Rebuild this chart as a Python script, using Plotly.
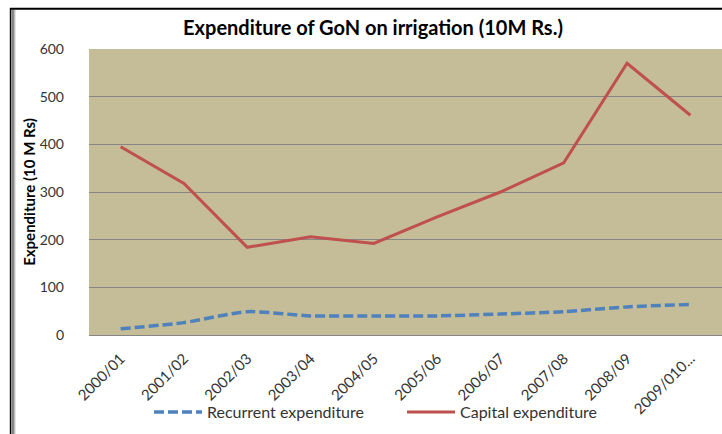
import plotly.graph_objects as go

categories = ["2000/01", "2001/02", "2002/03", "2003/04", "2004/05",
              "2005/06", "2006/07", "2007/08", "2008/09", "2009/010..."]
recurrent = [13, 26, 49, 40, 40, 40, 44, 49, 59, 64]
capital = [395, 318, 184, 206, 192, 248, 300, 361, 570, 461]
y_ticks = [0, 100, 200, 300, 400, 500, 600]

W, H = 722, 434
ML, MR, MT, MB = 89, 0, 49, 99
PW, PH = W - ML - MR, H - MT - MB

def px_x(px):
    return (px - ML) / PW

def px_y(py):
    return (H - MB - py) / PH

fig = go.Figure()
fig.add_trace(go.Scatter(
    x=categories, y=recurrent, mode="lines", name="Recurrent expenditure",
    line=dict(color="#4F81BD", width=3.5, dash="10px,4px", shape="spline", smoothing=0.6),
))
fig.add_trace(go.Scatter(
    x=categories, y=capital, mode="lines", name="Capital expenditure",
    line=dict(color="#C0504D", width=3),
))

shapes = [
    dict(type="line", xref="paper", yref="paper", x0=px_x(10), x1=px_x(730), y0=px_y(8.7), y1=px_y(8.7),
         line=dict(color="black", width=2)),
    dict(type="line", xref="paper", yref="paper", x0=px_x(10.6), x1=px_x(10.6), y0=px_y(8), y1=px_y(440),
         line=dict(color="black", width=1.6)),
    dict(type="line", xref="paper", yref="paper", x0=px_x(13), x1=px_x(13), y0=px_y(9.5), y1=px_y(440),
         line=dict(color="black", width=1)),
    dict(type="line", xref="paper", yref="paper", x0=px_x(14.6), x1=px_x(14.6), y0=px_y(10), y1=px_y(440),
         line=dict(color="#BBBBBB", width=1.6)),
]

fig.update_layout(
    width=W, height=H,
    margin=dict(l=ML, r=MR, t=MT, b=MB, autoexpand=False),
    paper_bgcolor="white",
    plot_bgcolor="#C4BD97",
    font=dict(family="Lato", color="#333333"),
    title=dict(text="<b>Expenditure of GoN on irrigation (10M Rs.)</b>",
               x=373 / W, xanchor="center",
               y=1 - 28 / H, yanchor="middle",
               font=dict(family="Lato", size=20, color="black")),
    showlegend=True,
    legend=dict(orientation="h", xref="paper", yref="paper",
                x=px_x(149), xanchor="left", y=px_y(412), yanchor="middle",
                font=dict(family="Lato", size=16, color="#333333"),
                bgcolor="rgba(0,0,0,0)", itemwidth=48, tracegroupgap=0,
                entrywidth=190),
    xaxis=dict(type="category", tickangle=-45, showgrid=False, automargin=False,
               showline=True, linecolor="#868686", linewidth=1, ticks="",
               ticklabelstandoff=8,
               tickfont=dict(family="Lato", size=15, color="#333333"),
               range=[-0.5, len(categories) - 0.5]),
    yaxis=dict(range=[0, 600], tickvals=y_ticks, showgrid=True, gridcolor="#868686",
               gridwidth=1, zeroline=False, automargin=False, ticks="",
               ticklabelstandoff=24,
               tickfont=dict(family="Lato", size=14, color="#333333"),
               title=dict(text="<b>Expenditure (10 M Rs)</b>", standoff=0,
                          font=dict(family="Lato", size=15, color="black"))),
    shapes=shapes,
)

fig.write_html("out.html", config={"displayModeBar": False},
               post_script="document.body.style.margin='0';document.body.style.padding='0';")
